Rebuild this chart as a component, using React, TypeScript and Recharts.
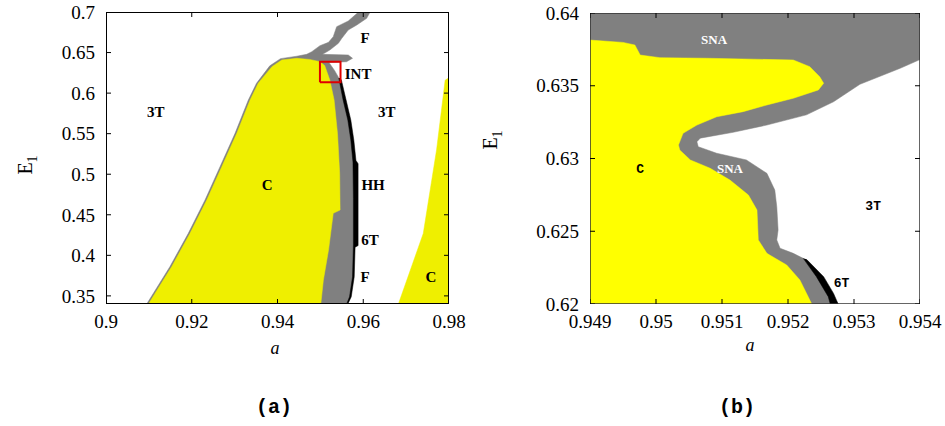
import { ComposedChart, Scatter, XAxis, YAxis, ReferenceDot } from 'recharts';

type Pt = [number, number];

const FONT = 'Liberation Serif, Times New Roman, serif';
const MONO = 'Liberation Mono, Courier New, monospace';

// ---- panel (a): region outlines as [a, E1] ----
const A_X_DOMAIN = [0.9, 0.98];
const A_Y_DOMAIN = [0.34, 0.7];
const A_X_TICKS = [0.9, 0.92, 0.94, 0.96, 0.98];
const A_Y_TICKS = [0.35, 0.4, 0.45, 0.5, 0.55, 0.6, 0.65, 0.7];

const A_GRAY: Pt[] = [
  [0.9095, 0.34], [0.9149, 0.386], [0.9192, 0.4271], [0.9231, 0.4682], [0.9266, 0.5093],
  [0.9301, 0.5504], [0.9332, 0.5915], [0.9351, 0.6121], [0.9382, 0.6336], [0.9407, 0.6425],
  [0.9445, 0.6455], [0.9468, 0.6478], [0.948, 0.6511], [0.9499, 0.6585], [0.9519, 0.6626],
  [0.953, 0.6696], [0.9538, 0.6819], [0.9565, 0.6889], [0.9581, 0.6963], [0.9589, 0.7],
  [0.9616, 0.7], [0.9608, 0.6922], [0.9585, 0.684], [0.9565, 0.6778], [0.955, 0.6676],
  [0.9542, 0.6614], [0.9522, 0.6531], [0.9505, 0.6478], [0.9565, 0.647], [0.9575, 0.6429],
  [0.9561, 0.6387], [0.952, 0.6378], [0.9533, 0.628], [0.9546, 0.616], [0.9556, 0.5915],
  [0.9567, 0.5668], [0.9574, 0.5421], [0.9578, 0.515], [0.9578, 0.47], [0.9578, 0.413],
  [0.9577, 0.3735], [0.957, 0.3488], [0.9561, 0.34],
];

const A_YELLOW: Pt[] = [
  [0.9099, 0.34], [0.9153, 0.386], [0.9196, 0.4271], [0.9235, 0.4682], [0.927, 0.5093],
  [0.9305, 0.5504], [0.9336, 0.5915], [0.9355, 0.6121], [0.9387, 0.6326], [0.941, 0.6408],
  [0.9445, 0.6429], [0.9475, 0.6415], [0.9499, 0.6387], [0.951, 0.634], [0.9522, 0.6162],
  [0.9532, 0.5915], [0.954, 0.55], [0.9545, 0.5011], [0.9546, 0.4559], [0.953, 0.4518],
  [0.9519, 0.4065], [0.9507, 0.3695], [0.9501, 0.34],
];

const A_YELLOW_RIGHT: Pt[] = [
  [0.9682, 0.34], [0.974, 0.427], [0.9771, 0.53], [0.9791, 0.616], [0.9798, 0.6182],
  [0.98, 0.6182], [0.98, 0.34],
];

const A_BLACK: Pt[] = [
  [0.9543, 0.6185], [0.9553, 0.5915], [0.9564, 0.5668], [0.9571, 0.5421], [0.9576, 0.515],
  [0.9577, 0.47], [0.9577, 0.413], [0.9575, 0.3735], [0.9568, 0.3488], [0.9562, 0.341],
  [0.9565, 0.341], [0.9572, 0.3488], [0.9579, 0.3735], [0.9581, 0.41], [0.9588, 0.412],
  [0.9588, 0.513], [0.9583, 0.517], [0.9578, 0.5421], [0.9571, 0.5668], [0.956, 0.5915],
  [0.9549, 0.6162], [0.9545, 0.6185],
];

// red box marking the zoomed window of panel (b)
const A_BOX: Pt[] = [
  [0.9499, 0.6133], [0.9499, 0.6387], [0.9547, 0.6387], [0.9547, 0.6133], [0.9499, 0.6133],
];

const A_LABELS: { text: string; a: number; e: number }[] = [
  { text: '3T', a: 0.9116, e: 0.5767 },
  { text: '3T', a: 0.9655, e: 0.5767 },
  { text: 'C', a: 0.9376, e: 0.4867 },
  { text: 'HH', a: 0.9623, e: 0.4867 },
  { text: '6T', a: 0.9616, e: 0.4189 },
  { text: 'F', a: 0.9604, e: 0.3732 },
  { text: 'C', a: 0.9758, e: 0.3732 },
  { text: 'F', a: 0.9604, e: 0.6679 },
  { text: 'INT', a: 0.9588, e: 0.6236 },
];

// ---- panel (b): zoom of the INT box ----
const B_X_DOMAIN = [0.949, 0.954];
const B_Y_DOMAIN = [0.62, 0.64];
const B_X_TICKS = [0.949, 0.95, 0.951, 0.952, 0.953, 0.954];
const B_Y_TICKS = [0.62, 0.625, 0.63, 0.635, 0.64];

const B_GRAY: Pt[] = [
  [0.949, 0.62], [0.949, 0.64], [0.954, 0.64], [0.954, 0.6368], [0.9537, 0.6362],
  [0.95309, 0.6351], [0.95269, 0.6339], [0.95228, 0.633], [0.95168, 0.6323], [0.95117, 0.6318],
  [0.95067, 0.6314], [0.95062, 0.63115], [0.95064, 0.63081], [0.95092, 0.63036], [0.95137, 0.6299],
  [0.95168, 0.62898], [0.9518, 0.62783], [0.95183, 0.62669], [0.95185, 0.62509], [0.95183, 0.6244],
  [0.95188, 0.62383], [0.95208, 0.62348], [0.95223, 0.62314], [0.9525, 0.6215], [0.95276, 0.62],
];

const B_YELLOW: Pt[] = [
  [0.949, 0.62], [0.949, 0.63814], [0.9495, 0.63798], [0.94968, 0.6378], [0.94976, 0.63711],
  [0.95006, 0.63693], [0.95077, 0.63689], [0.95208, 0.63677], [0.95233, 0.63631], [0.95248, 0.63562],
  [0.95254, 0.63517], [0.95246, 0.63471], [0.95208, 0.63414], [0.95168, 0.63368], [0.95132, 0.63322],
  [0.95092, 0.63287], [0.95062, 0.6323], [0.95041, 0.63173], [0.95034, 0.63093], [0.95036, 0.63058],
  [0.95052, 0.6299], [0.95082, 0.62933], [0.95112, 0.62852], [0.9514, 0.62749], [0.95153, 0.62646],
  [0.95155, 0.6244], [0.95168, 0.62348], [0.95198, 0.62268], [0.95218, 0.62165], [0.95236, 0.62],
];

const B_BLACK: Pt[] = [
  [0.95223, 0.62314], [0.95243, 0.62188], [0.95261, 0.6205], [0.95264, 0.62],
  [0.95276, 0.62], [0.95269, 0.62073], [0.95254, 0.62188], [0.95228, 0.62307],
];

const B_LABELS: { text: string; a: number; e: number; white?: boolean }[] = [
  { text: 'SNA', a: 0.95088, e: 0.63819, white: true },
  { text: 'SNA', a: 0.95112, e: 0.62933, white: true },
  { text: 'C', a: 0.94976, e: 0.62933 },
  { text: '3T', a: 0.95329, e: 0.6268 },
  { text: '6T', a: 0.95281, e: 0.62146 },
];

const GRAY = '#808080';

const toXY = (pts: Pt[]) => pts.map(([x, y]) => ({ x, y }));
const noDot = () => null;

function region(key: string, pts: Pt[], color: string) {
  return (
    <Scatter key={key} data={toXY(pts)} line={{ fill: color, stroke: color, strokeWidth: 0.5 }}
      shape={noDot} isAnimationActive={false} />
  );
}

function outline(key: string, pts: Pt[], color: string, width: number) {
  return (
    <Scatter key={key} data={toXY(pts)} line={{ fill: 'none', stroke: color, strokeWidth: width }}
      shape={noDot} isAnimationActive={false} />
  );
}

// frame + inward tick marks, drawn above the filled regions
function frame(xd: number[], yd: number[], xt: number[], yt: number[], color: string, width: number) {
  const box: Pt[] = [[xd[0], yd[0]], [xd[0], yd[1]], [xd[1], yd[1]], [xd[1], yd[0]], [xd[0], yd[0]]];
  const mark = (dx: number, dy: number) => (p: any) => (
    <line x1={p.cx} y1={p.cy} x2={p.cx + dx} y2={p.cy + dy} stroke="#000" strokeWidth={1} />
  );
  return [
    outline('frame', box, color, width),
    <Scatter key="tb" data={xt.map((x) => ({ x, y: yd[0] }))} shape={mark(0, -5)} isAnimationActive={false} />,
    <Scatter key="tt" data={xt.map((x) => ({ x, y: yd[1] }))} shape={mark(0, 5)} isAnimationActive={false} />,
    <Scatter key="tl" data={yt.map((y) => ({ x: xd[0], y }))} shape={mark(5, 0)} isAnimationActive={false} />,
    <Scatter key="tr" data={yt.map((y) => ({ x: xd[1], y }))} shape={mark(-5, 0)} isAnimationActive={false} />,
  ];
}

const XTick = (p: any) => (
  <text x={p.x} y={p.y} dy="0.71em" textAnchor="middle" fill="#000" fontSize={19} fontFamily="Liberation Serif">
    {p.payload.value}
  </text>
);
const YTick = (p: any) => (
  <text x={p.x} y={p.y} dy="0.355em" textAnchor="end" fill="#000" fontSize={19} fontFamily="Liberation Serif">
    {p.payload.value}
  </text>
);

function axes(xd: number[], yd: number[], xt: number[], yt: number[]) {
  return [
    <XAxis key="x" type="number" dataKey="x" domain={xd} ticks={xt} allowDataOverflow height={30}
      tickLine={false} axisLine={false} tickSize={6} tickMargin={5} tick={XTick} />,
    <YAxis key="y" type="number" dataKey="y" domain={yd} ticks={yt} allowDataOverflow width={60}
      tickLine={false} axisLine={false} tickSize={6} tickMargin={5} tick={YTick} />,
  ];
}

const abs = (left: number, top: number): React.CSSProperties => ({
  position: 'absolute', left, top, transform: 'translate(-50%, -50%)', whiteSpace: 'nowrap', lineHeight: 1,
});

export default function App() {
  return (
    <div style={{ position: 'absolute', left: 0, top: 0, width: 945, height: 426, background: '#fff', fontFamily: FONT }}>
      <div style={{ position: 'absolute', left: 0, top: 0 }}>
        <ComposedChart width={470} height={340} margin={{ top: 12, right: 21, bottom: 6, left: 46 }}>
          {axes(A_X_DOMAIN, A_Y_DOMAIN, A_X_TICKS, A_Y_TICKS)}
          {region('ag', A_GRAY, GRAY)}
          {region('ay', A_YELLOW, '#efef00')}
          {region('ay2', A_YELLOW_RIGHT, '#efef00')}
          {region('ab', A_BLACK, '#000')}
          {outline('box', A_BOX, '#e00000', 2)}
          {frame(A_X_DOMAIN, A_Y_DOMAIN, A_X_TICKS, A_Y_TICKS, '#000', 2)}
          {A_LABELS.map((l, i) => (
            <ReferenceDot key={i} x={l.a} y={l.e} r={0} fill="none" stroke="none"
              label={{ value: l.text, position: 'center', fill: '#000', fontSize: 15, fontWeight: 700, fontFamily: 'Liberation Serif' }} />
          ))}
        </ComposedChart>
      </div>
      <div style={{ position: 'absolute', left: 480, top: 0 }}>
        <ComposedChart width={465} height={340} margin={{ top: 13, right: 25, bottom: 6, left: 50 }}>
          {axes(B_X_DOMAIN, B_Y_DOMAIN, B_X_TICKS, B_Y_TICKS)}
          {region('bg', B_GRAY, GRAY)}
          {region('by', B_YELLOW, '#ffff00')}
          {region('bb', B_BLACK, '#000')}
          {frame(B_X_DOMAIN, B_Y_DOMAIN, B_X_TICKS, B_Y_TICKS, '#333', 1.5)}
          {B_LABELS.map((l, i) => (
            <ReferenceDot key={i} x={l.a} y={l.e} r={0} fill="none" stroke="none"
              label={{
                value: l.text, position: 'center', fill: l.white ? '#fff' : '#000', fontSize: 13, fontWeight: 700,
                fontFamily: l.white ? 'Liberation Serif' : 'Liberation Mono',
              }} />
          ))}
        </ComposedChart>
      </div>

      <div style={{ ...abs(27, 165), transform: 'translate(-50%, -50%) rotate(-90deg)', fontSize: 20 }}>
        E<sub style={{ fontSize: 14 }}>1</sub>
      </div>
      <div style={{ ...abs(492, 140), transform: 'translate(-50%, -50%) rotate(-90deg)', fontSize: 20 }}>
        E<sub style={{ fontSize: 14 }}>1</sub>
      </div>
      <div style={{ ...abs(275, 348), fontStyle: 'italic', fontSize: 18 }}>a</div>
      <div style={{ ...abs(750, 345), fontStyle: 'italic', fontSize: 18 }}>a</div>
      <div style={{ ...abs(274, 408), fontFamily: MONO, fontWeight: 700, fontSize: 20 }}>(a)</div>
      <div style={{ ...abs(737, 408), fontFamily: MONO, fontWeight: 700, fontSize: 20 }}>(b)</div>
    </div>
  );
}
